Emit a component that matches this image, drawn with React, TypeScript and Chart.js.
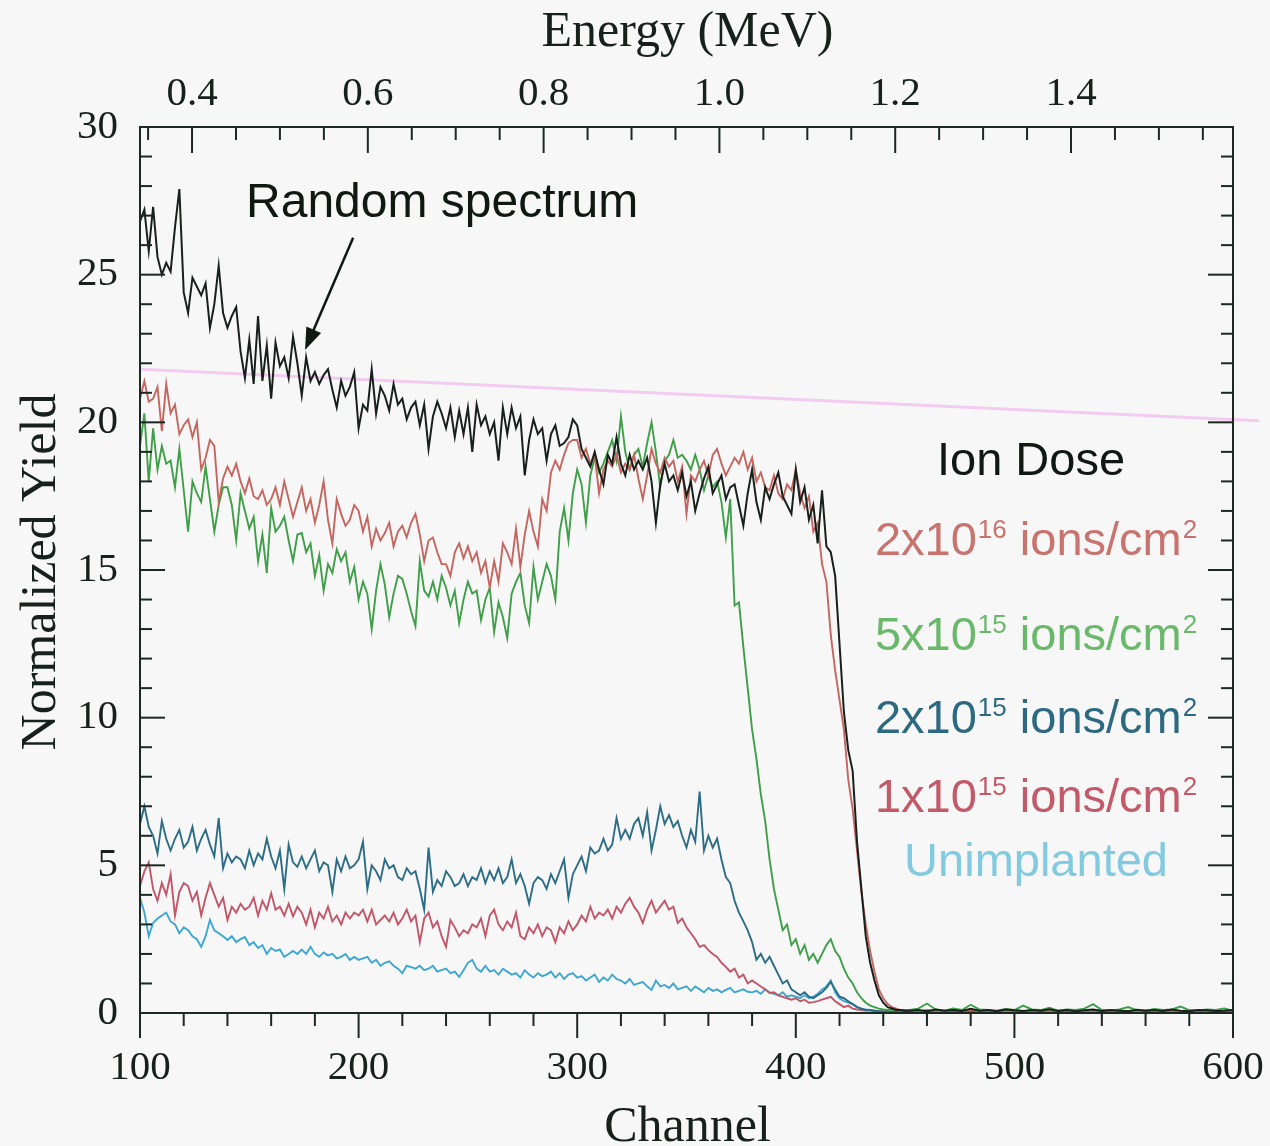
import React, { useEffect, useRef } from "react";
import { Chart, registerables } from "chart.js";

Chart.register(...registerables);

// ---------------- axes / ticks ----------------
const channelMin = 100;
const channelMax = 600;
const yieldMin = 0;
const yieldMax = 30;
const channelTicks = [100, 200, 300, 400, 500, 600];
const yieldTicks = [0, 5, 10, 15, 20, 25, 30];
const energyTicks = [0.4, 0.6, 0.8, 1.0, 1.2, 1.4];
const channelMinorStep = 20;
const yieldMinorStep = 1;
const energyMinorStep = 0.05;
// energy calibration of the top axis (MeV)
const energyAtChannelMin = 0.3408;
const energyPerChannel = 0.002487;

// channels covered by the series arrays
const mainStart = 100; // main arrays: 100, 102, ..., 450
const mainStep = 2;
const tailStart = 452; // tail arrays: 452, 456, ..., 600
const tailStep = 4;

// ---------------- series (Normalized Yield) ----------------
const randomSpectrum = [
  26.8, 27.2, 25.8, 27.3, 25.6, 25.0, 25.4, 25.1, 26.6, 27.9,
  24.4, 23.7, 24.9, 24.6, 24.3, 24.7, 23.2, 24.0, 25.3, 23.7,
  23.2, 23.6, 23.9, 22.4, 21.5, 22.8, 21.3, 23.6, 21.4, 22.6,
  20.8, 22.7, 21.9, 22.2, 21.5, 22.9, 22.0, 20.9, 22.2, 21.4,
  21.7, 21.3, 21.6, 21.8, 21.1, 20.5, 21.4, 20.9, 21.2, 21.7,
  19.8, 20.6, 20.4, 21.8, 20.3, 21.2, 20.9, 20.4, 21.3, 20.6,
  20.8, 20.1, 20.5, 20.7, 19.9, 20.6, 19.1, 20.2, 20.7, 20.3,
  19.8, 20.5, 19.5, 20.4, 19.6, 20.5, 19.0, 20.6, 19.9, 20.2,
  19.6, 20.0, 18.7, 20.5, 19.6, 20.5, 19.8, 20.2, 18.2, 19.4,
  20.1, 19.6, 19.8, 18.7, 19.6, 19.9, 19.2, 19.3, 19.5, 20.1,
  19.9, 19.1, 18.8, 18.5, 19.0, 18.4, 17.9, 18.9, 18.6, 19.5,
  18.6, 18.2, 18.9, 18.4, 18.7, 18.4, 18.8, 18.0, 16.6, 17.9,
  18.6, 18.0, 18.2, 17.7, 18.3, 17.5, 18.0, 17.0, 17.6, 18.1,
  18.5, 17.6, 17.9, 18.2, 17.4, 17.8, 17.9, 17.2, 16.5, 17.6,
  18.4, 17.3, 16.7, 17.8, 17.4, 17.9, 18.3, 17.5, 17.2, 16.9,
  18.4, 17.3, 17.8, 16.7, 17.2, 15.9, 17.7, 15.8, 15.6, 14.8,
  12.5, 10.2, 8.9, 8.2, 5.8, 4.2, 2.6, 1.7, 1.1, 0.6,
  0.35, 0.2, 0.15, 0.1, 0.1, 0.08,
];
const dose2e16 = [
  20.8, 21.4, 20.7, 20.8, 21.2, 19.7, 21.3, 20.3, 20.6, 19.6,
  19.9, 20.1, 19.5, 20.0, 18.4, 18.8, 19.4, 19.2, 17.3, 18.1,
  18.5, 18.2, 18.6, 18.0, 17.6, 18.1, 17.5, 17.4, 17.7, 17.2,
  17.4, 17.8, 17.2, 18.0, 17.4, 16.8, 17.3, 17.8, 17.0, 17.4,
  16.6, 17.2, 18.0, 16.7, 15.9, 17.4, 16.9, 16.5, 16.7, 17.2,
  17.0, 16.3, 16.8, 15.8, 16.4, 16.0, 16.25, 16.6, 15.8, 16.3,
  16.5, 16.1, 16.6, 16.9, 16.2, 15.3, 16.0, 16.1, 15.6, 15.2,
  15.2, 14.8, 15.6, 15.9, 15.4, 15.8, 15.3, 15.6, 14.9, 15.3,
  14.4, 15.3, 14.6, 15.9, 15.6, 15.2, 16.4, 15.1, 16.2, 17.0,
  16.3, 15.8, 17.4, 17.0, 18.3, 18.7, 18.4, 18.9, 19.3, 19.4,
  19.4, 18.8, 19.1, 18.6, 18.9, 17.6, 18.4, 18.7, 18.5, 18.9,
  18.3, 18.6, 18.4, 18.9, 18.1, 17.4, 18.2, 19.1, 18.6, 18.3,
  18.8, 18.5, 18.7, 18.0, 18.5, 16.9, 18.2, 18.0, 18.4, 18.7,
  18.2, 18.9, 19.1, 18.6, 18.2, 18.5, 18.8, 18.6, 19.0, 18.4,
  18.8, 18.0, 18.3, 17.8, 17.7, 18.2, 17.6, 17.4, 17.9, 17.7,
  18.4, 17.6, 17.1, 17.5, 16.3, 16.6, 15.2, 14.6, 12.8, 11.6,
  10.6, 9.6, 7.9, 6.9, 5.5, 4.1, 3.0, 2.1, 1.4, 0.8,
  0.5, 0.3, 0.2, 0.15, 0.1, 0.1,
];
const dose5e15 = [
  19.2, 20.3, 18.0, 19.8, 18.4, 19.2, 18.6, 18.7, 17.8, 19.1,
  17.7, 16.3, 18.0, 17.6, 17.3, 18.5, 17.4, 16.3, 17.2, 17.8,
  17.8, 17.2, 16.0, 17.6, 17.0, 16.4, 16.8, 15.3, 16.2, 14.9,
  17.1, 16.3, 16.5, 16.8, 16.0, 15.3, 16.2, 16.25, 15.6, 15.9,
  14.8, 15.5, 14.3, 15.2, 14.9, 15.7, 15.3, 15.6, 14.6, 15.1,
  14.0, 14.6, 14.2, 13.0, 14.3, 15.2, 14.5, 13.4, 14.2, 14.8,
  14.7, 14.2, 13.6, 13.1, 15.3, 14.3, 14.1, 14.6, 14.0, 14.8,
  14.4, 13.8, 14.3, 13.2, 14.0, 14.6, 14.2, 14.3, 13.3, 14.0,
  14.4, 12.9, 13.9, 13.4, 12.7, 14.2, 14.6, 14.9, 13.8, 13.2,
  15.1, 14.0, 14.6, 15.2, 14.8, 14.0, 16.3, 17.1, 16.0, 17.6,
  18.4, 17.9, 16.6, 18.2, 18.8, 18.3, 18.6, 19.0, 19.4, 18.7,
  20.2, 19.0, 18.4, 18.9, 19.1, 18.5, 19.3, 20.0, 19.0, 17.8,
  18.7, 18.9, 19.4, 18.8, 18.9, 18.7, 18.4, 18.9, 18.4, 17.7,
  18.2, 17.8, 18.0, 17.3, 16.1, 17.4, 13.8, 13.9, 12.4, 11.0,
  9.6, 8.6, 7.4, 6.5, 5.2, 4.2, 3.5, 2.8, 3.0, 2.3,
  2.5, 2.0, 2.3, 1.8, 2.0, 1.7, 2.0, 2.3, 2.5, 2.1,
  1.9, 1.5, 1.2, 1.0, 0.7, 0.5, 0.35, 0.25, 0.2, 0.15,
  0.12, 0.1, 0.12, 0.1, 0.08, 0.1,
];
const dose2e15 = [
  6.4, 7.0, 6.3, 6.0, 5.4, 6.5, 5.9, 5.5, 5.9, 6.2,
  5.6, 5.8, 6.3, 5.5, 5.9, 6.2, 5.7, 5.3, 6.6, 4.9,
  5.4, 5.1, 5.3, 5.2, 4.9, 5.5, 5.0, 5.4, 5.2, 5.9,
  5.3, 4.9, 5.5, 4.2, 5.7, 5.1, 4.95, 5.3, 4.9, 5.2,
  5.5, 4.8, 5.1, 5.0, 4.1, 5.2, 4.8, 5.3, 4.9, 5.0,
  5.2, 5.8, 4.2, 5.0, 4.8, 4.5, 5.2, 4.9, 5.0, 4.6,
  4.5, 4.9, 4.7, 4.8, 4.2, 3.5, 5.6, 4.1, 4.5, 4.3,
  4.8, 4.6, 4.3, 4.4, 4.7, 4.3, 4.6, 4.5, 4.9, 4.4,
  4.8, 4.5, 4.9, 4.4, 4.6, 5.2, 4.4, 4.7, 4.3, 3.7,
  4.4, 4.6, 4.5, 4.2, 4.7, 4.4, 4.8, 5.2, 3.9, 4.7,
  5.0, 5.3, 4.8, 5.6, 5.4, 5.5, 5.9, 5.5, 5.7, 6.6,
  5.9, 6.2, 5.9, 6.4, 6.6, 6.0, 6.8, 5.5, 6.2, 7.0,
  6.4, 6.7, 6.3, 6.5, 6.0, 5.6, 6.2, 5.8, 7.5, 5.5,
  6.0, 5.6, 5.9, 5.2, 4.6, 4.4, 3.8, 3.4, 3.1, 2.8,
  2.4, 1.8, 2.0, 1.7, 1.9, 1.6, 1.3, 1.0, 1.1, 0.8,
  0.7, 0.6, 0.7, 0.55, 0.5, 0.6, 0.7, 0.85, 1.05, 0.8,
  0.55, 0.5, 0.4, 0.3, 0.2, 0.15, 0.1, 0.1, 0.08, 0.06,
  0.05, 0.05, 0.04, 0.05, 0.04, 0.04,
];
const dose1e15 = [
  4.3, 4.8, 5.1, 4.2, 3.8, 4.4, 4.0, 4.7, 3.3, 4.1,
  4.4, 4.3, 3.8, 4.1, 3.3, 3.9, 4.4, 4.0, 3.6, 3.9,
  3.15, 3.6, 3.4, 3.7, 3.5, 3.6, 3.9, 3.3, 3.8, 3.5,
  4.06, 3.5, 3.6, 3.3, 3.7, 3.27, 3.6, 3.4, 3.0, 3.5,
  2.9, 3.4, 3.2, 3.6, 3.1, 3.3, 3.0, 3.4, 3.2, 3.4,
  3.3, 3.5, 3.1, 3.5, 3.0, 3.15, 3.3, 3.1, 3.4, 3.0,
  3.2, 3.5, 3.1, 3.3, 2.4, 3.2, 3.4, 2.9, 3.1, 2.6,
  2.24, 3.15, 2.9, 2.6, 2.8, 2.7, 3.0, 2.9, 3.2, 2.6,
  3.3, 3.5, 3.0, 2.8, 3.1, 2.9, 3.4, 2.6, 2.5, 2.9,
  2.7, 3.0, 2.6, 2.9, 2.8, 2.4, 2.9, 2.7, 3.1, 2.8,
  3.0, 3.3, 3.1, 3.6, 3.2, 3.4, 3.3, 3.5, 3.2, 3.6,
  3.4, 3.7, 3.9, 3.6, 3.4, 3.05, 3.5, 3.8, 3.4, 3.6,
  3.8, 3.5, 3.6, 3.05, 3.2, 2.9, 2.7, 2.5, 2.24, 2.3,
  2.13, 2.0, 1.9, 1.7, 1.56, 1.4, 1.5, 1.2, 1.3, 1.0,
  1.1, 1.0, 0.9, 0.8, 0.68, 0.7, 0.6, 0.55, 0.5, 0.45,
  0.5, 0.4, 0.45, 0.35, 0.37, 0.4, 0.45, 0.5, 0.55, 0.4,
  0.3, 0.2, 0.25, 0.15, 0.12, 0.1, 0.08, 0.08, 0.06, 0.05,
  0.05, 0.04, 0.04, 0.03, 0.04, 0.03,
];
const unimplanted = [
  3.9, 3.4, 2.6, 3.05, 3.2, 3.3, 3.4, 3.1, 3.0, 2.7,
  2.9, 2.8, 2.6, 2.5, 2.24, 2.6, 3.15, 2.8, 2.7, 2.6,
  2.47, 2.6, 2.4, 2.5, 2.57, 2.3, 2.4, 2.2, 2.3, 2.0,
  2.2, 2.1, 2.15, 1.9, 2.0, 2.1, 2.0, 2.15, 2.0, 2.24,
  2.0, 1.9, 2.05, 1.95, 2.0, 1.85, 1.9, 2.0, 1.8, 1.9,
  1.8, 1.85, 1.9, 1.7, 1.8, 1.6, 1.7, 1.75, 1.6, 1.5,
  1.35, 1.6, 1.55, 1.5, 1.6, 1.45, 1.5, 1.6, 1.4, 1.45,
  1.5, 1.35, 1.4, 1.22, 1.45, 1.7, 1.8, 1.5, 1.4, 1.6,
  1.4, 1.45, 1.3, 1.5, 1.4, 1.3, 1.35, 1.2, 1.45, 1.3,
  1.2, 1.35, 1.25, 1.3, 1.4, 1.2, 1.35, 1.15, 1.3, 1.35,
  1.2, 1.25, 1.1, 1.2, 1.3, 1.05, 1.2, 1.1, 1.3, 1.15,
  1.1, 1.0, 1.15, 0.95, 1.0, 1.05, 0.9, 0.78, 1.1, 0.9,
  0.95, 0.85, 1.0, 0.8, 0.85, 0.9, 0.75, 0.9, 0.8, 0.7,
  0.85, 0.75, 0.8, 0.7, 0.78, 0.85, 0.7, 0.75, 0.8, 0.72,
  0.7, 0.75, 0.65, 0.8, 0.7, 0.65, 0.6, 0.7, 0.55, 0.6,
  0.55, 0.5, 0.6, 0.5, 0.55, 0.65, 0.8, 0.9, 1.1, 0.7,
  0.5, 0.4, 0.35, 0.3, 0.2, 0.15, 0.12, 0.1, 0.08, 0.06,
  0.05, 0.05, 0.04, 0.04, 0.03, 0.03,
];

// tails, channels 452..600 (background level)
const randomTail = [
  0.08, 0.1, 0.06, 0.12, 0.08, 0.1, 0.07, 0.14, 0.08, 0.1,
  0.06, 0.12, 0.09, 0.07, 0.1, 0.08, 0.13, 0.07, 0.1, 0.06,
  0.09, 0.12, 0.07, 0.1, 0.08, 0.06, 0.11, 0.08, 0.1, 0.07,
  0.12, 0.08, 0.06, 0.1, 0.09, 0.07, 0.08, 0.1,
];
const dose2e16Tail = [
  0.08, 0.06, 0.1, 0.07, 0.05, 0.09, 0.06, 0.1, 0.07, 0.05,
  0.08, 0.06, 0.1, 0.07, 0.05, 0.08, 0.06, 0.09, 0.07, 0.05,
  0.08, 0.06, 0.1, 0.07, 0.05, 0.08, 0.06, 0.09, 0.07, 0.05,
  0.08, 0.06, 0.1, 0.07, 0.05, 0.08, 0.06, 0.07,
];
const dose5e15Tail = [
  0.1, 0.15, 0.32, 0.12, 0.08, 0.15, 0.1, 0.28, 0.12, 0.1,
  0.08, 0.14, 0.1, 0.25, 0.12, 0.1, 0.18, 0.08, 0.12, 0.1,
  0.15, 0.3, 0.1, 0.08, 0.12, 0.2, 0.1, 0.08, 0.14, 0.1,
  0.12, 0.22, 0.1, 0.08, 0.12, 0.1, 0.15, 0.08,
];
const lowDoseTail = [
  0.04, 0.03, 0.05, 0.03, 0.04, 0.02, 0.04, 0.03, 0.05, 0.03,
  0.04, 0.03, 0.02, 0.04, 0.03, 0.05, 0.03, 0.04, 0.02, 0.04,
  0.03, 0.05, 0.03, 0.04, 0.02, 0.04, 0.03, 0.05, 0.03, 0.04,
  0.02, 0.04, 0.03, 0.05, 0.03, 0.04, 0.02, 0.03,
];

// faint pink scan line across the plot (channel, yield)
const pinkLineChannels = [100, 612];
const pinkLineValues = [21.8, 20.05];

// ---------------- labels ----------------
const xTitle = "Channel";
const yTitle = "Normalized Yield";
const topTitle = "Energy (MeV)";
const randomLabel = "Random spectrum";
const legendTitle = "Ion Dose";
const doseBases = ["2x10", "5x10", "2x10", "1x10"];
const doseExps = ["16", "15", "15", "15"];
const doseUnit = " ions/cm";
const unimplantedLabel = "Unimplanted";

// ---------------- styles ----------------
const BG = "#f7f7f7";
const AXIS = "#1c2822";
const TEXT = "#17211b";
const colBlack = "#18201b";
const col2e16 = "#c4665f";
const col5e15 = "#3f9e48";
const col2e15 = "#2b6c86";
const col1e15 = "#c25669";
const colUnimp = "#3ea7d0";
const txt2e16 = "#c8736d";
const txt5e15 = "#6ab86a";
const txt2e15 = "#2d6a82";
const txt1e15 = "#c25a69";
const txtUnimp = "#82cae0";
const SERIF = '"Liberation Serif", "Times New Roman", serif';
const SANS = '"Liberation Sans", Arial, sans-serif';

// fixed plot frame inside the 1270x1146 canvas
const LEFT_W = 140;
const RIGHT_W = 37;
const TOP_H = 127;
const BOTTOM_H = 133;

function toPoints(main: number[], tail: number[]) {
  const pts: { x: number; y: number }[] = [];
  main.forEach((v, i) => pts.push({ x: mainStart + i * mainStep, y: v }));
  tail.forEach((v, i) => pts.push({ x: tailStart + i * tailStep, y: v }));
  return pts;
}

const energyMin = energyAtChannelMin;
const energyMax = energyAtChannelMin + (channelMax - channelMin) * energyPerChannel;

const noPad = (s: any) => {
  s.paddingLeft = 0;
  s.paddingRight = 0;
  s.paddingTop = 0;
  s.paddingBottom = 0;
};

const decorPlugin = {
  id: "decor",
  beforeDraw(chart: any) {
    const { ctx, width, height } = chart;
    ctx.save();
    ctx.fillStyle = BG;
    ctx.fillRect(0, 0, width, height);
    ctx.restore();
  },
  afterDraw(chart: any) {
    const { ctx, chartArea: a, scales } = chart;
    const sx = scales.x;
    const sy = scales.y;
    const st = scales.xTop;
    ctx.save();
    ctx.strokeStyle = AXIS;
    ctx.lineWidth = 2;
    ctx.lineCap = "butt";
    const line = (x1: number, y1: number, x2: number, y2: number) => {
      ctx.beginPath();
      ctx.moveTo(x1, y1);
      ctx.lineTo(x2, y2);
      ctx.stroke();
    };
    // frame
    ctx.strokeRect(a.left, a.top, a.right - a.left, a.bottom - a.top);
    // bottom ticks (outward)
    for (let c = channelMin; c <= channelMax + 1e-6; c += channelMinorStep) {
      const px = sx.getPixelForValue(c);
      const major = channelTicks.includes(c);
      line(px, a.bottom, px, a.bottom + (major ? 25 : 13));
    }
    // top ticks (inward)
    const firstE = Math.ceil(energyMin / energyMinorStep - 1e-9) * energyMinorStep;
    for (let k = 0; ; k++) {
      const e = firstE + k * energyMinorStep;
      if (e > energyMax) break;
      const px = st.getPixelForValue(e);
      const major = energyTicks.some((t) => Math.abs(t - e) < 1e-6);
      line(px, a.top, px, a.top + (major ? 26 : 13));
    }
    // left / right ticks (inward)
    for (let v = yieldMin; v <= yieldMax; v += yieldMinorStep) {
      const py = sy.getPixelForValue(v);
      const major = yieldTicks.includes(v);
      const len = major ? 25 : 12;
      line(a.left, py, a.left + len, py);
      line(a.right, py, a.right - len, py);
    }

    // axis titles
    ctx.fillStyle = TEXT;
    ctx.font = `50px ${SERIF}`;
    ctx.textAlign = "center";
    ctx.textBaseline = "alphabetic";
    const cx = (a.left + a.right) / 2 + 1;
    ctx.fillText(topTitle, cx, a.top - 81);
    ctx.fillText(xTitle, cx, a.bottom + 128);
    ctx.save();
    ctx.translate(a.left - 85, (a.top + a.bottom) / 2 + 2);
    ctx.rotate(-Math.PI / 2);
    ctx.fillText(yTitle, 0, 0);
    ctx.restore();

    // "Random spectrum" annotation with arrow
    ctx.font = `48px ${SANS}`;
    ctx.textAlign = "left";
    ctx.fillStyle = "#101812";
    ctx.fillText(randomLabel, sx.getPixelForValue(148.5), sy.getPixelForValue(26.95));
    const ax1 = sx.getPixelForValue(197.5);
    const ay1 = sy.getPixelForValue(26.25);
    const ax2 = sx.getPixelForValue(175.5);
    const ay2 = sy.getPixelForValue(22.45);
    const ang = Math.atan2(ay2 - ay1, ax2 - ax1);
    const headLen = 22;
    const headHalf = 8;
    ctx.strokeStyle = "#101812";
    ctx.lineWidth = 2.5;
    line(ax1, ay1, ax2 - Math.cos(ang) * (headLen - 2), ay2 - Math.sin(ang) * (headLen - 2));
    ctx.beginPath();
    ctx.moveTo(ax2, ay2);
    ctx.lineTo(
      ax2 - Math.cos(ang) * headLen - Math.sin(ang) * headHalf,
      ay2 - Math.sin(ang) * headLen + Math.cos(ang) * headHalf
    );
    ctx.lineTo(
      ax2 - Math.cos(ang) * headLen + Math.sin(ang) * headHalf,
      ay2 - Math.sin(ang) * headLen - Math.cos(ang) * headHalf
    );
    ctx.closePath();
    ctx.fillStyle = "#101812";
    ctx.fill();

    // legend block
    const legendCx = sx.getPixelForValue(509.9);
    ctx.textAlign = "left";
    ctx.font = `47px ${SANS}`;
    ctx.fillStyle = "#0f1812";
    const wTitle = ctx.measureText(legendTitle).width;
    ctx.fillText(legendTitle, sx.getPixelForValue(507.6) - wTitle / 2, sy.getPixelForValue(18.22));
    const doseColors = [txt2e16, txt5e15, txt2e15, txt1e15];
    const doseBaselines = [15.51, 12.29, 9.48, 6.81];
    const big = `47px ${SANS}`;
    const small = `26px ${SANS}`;
    doseBases.forEach((base, i) => {
      const parts: [string, boolean][] = [
        [base, false],
        [doseExps[i], true],
        [doseUnit, false],
        ["2", true],
      ];
      let total = 0;
      const widths = parts.map(([t, sup]) => {
        ctx.font = sup ? small : big;
        const w = ctx.measureText(t).width + (sup ? 1 : 0);
        total += w;
        return w;
      });
      let x = legendCx - total / 2;
      const by = sy.getPixelForValue(doseBaselines[i]);
      ctx.fillStyle = doseColors[i];
      parts.forEach(([t, sup], j) => {
        ctx.font = sup ? small : big;
        ctx.fillText(t, x + (sup ? 1 : 0), sup ? by - 17 : by);
        x += widths[j];
      });
    });
    ctx.font = big;
    ctx.fillStyle = txtUnimp;
    const wU = ctx.measureText(unimplantedLabel).width;
    ctx.fillText(unimplantedLabel, legendCx - wU / 2, sy.getPixelForValue(4.64));
    ctx.restore();
  },
};

export default function App() {
  const canvasRef = useRef<HTMLCanvasElement | null>(null);

  useEffect(() => {
    const canvas = canvasRef.current;
    if (!canvas) return;
    const ds = (label: string, data: any[], color: string, width = 1.9) => ({
      label,
      data,
      borderColor: color,
      backgroundColor: color,
      borderWidth: width,
      pointRadius: 0,
      tension: 0,
      fill: false,
      xAxisID: "x",
      yAxisID: "y",
    });
    const tickFont = { family: SERIF, size: 41 };
    const chart = new Chart(canvas, {
      type: "line",
      data: {
        datasets: [
          ds("Random spectrum", toPoints(randomSpectrum, randomTail), colBlack, 2),
          ds("2x10^16 ions/cm^2", toPoints(dose2e16, dose2e16Tail), col2e16),
          ds("5x10^15 ions/cm^2", toPoints(dose5e15, dose5e15Tail), col5e15),
          ds("2x10^15 ions/cm^2", toPoints(dose2e15, lowDoseTail), col2e15),
          ds("1x10^15 ions/cm^2", toPoints(dose1e15, lowDoseTail), col1e15),
          ds("Unimplanted", toPoints(unimplanted, lowDoseTail), colUnimp),
          {
            ...ds(
              "scan line",
              pinkLineChannels.map((c, i) => ({ x: c, y: pinkLineValues[i] })),
              "#f4cbf0",
              3
            ),
            clip: false,
          },
        ],
      },
      options: {
        animation: false,
        responsive: false,
        devicePixelRatio: 1,
        events: [],
        layout: { padding: 0 },
        plugins: {
          legend: { display: false },
          tooltip: { enabled: false },
          title: { display: false },
        },
        scales: {
          x: {
            type: "linear",
            position: "bottom",
            min: channelMin,
            max: channelMax,
            afterFit: (s: any) => {
              s.height = BOTTOM_H;
              noPad(s);
            },
            afterBuildTicks: (s: any) => {
              s.ticks = channelTicks.map((value) => ({ value }));
            },
            grid: { display: false, drawTicks: false },
            border: { display: false },
            ticks: {
              padding: 31,
              font: tickFont,
              color: TEXT,
              maxRotation: 0,
              autoSkip: false,
            },
          },
          xTop: {
            type: "linear",
            position: "top",
            min: energyMin,
            max: energyMax,
            afterFit: (s: any) => {
              s.height = TOP_H;
              noPad(s);
            },
            afterBuildTicks: (s: any) => {
              s.ticks = energyTicks.map((value) => ({ value }));
            },
            grid: { display: false, drawTicks: false },
            border: { display: false },
            ticks: {
              padding: 8,
              font: tickFont,
              color: TEXT,
              maxRotation: 0,
              autoSkip: false,
              callback: (v: any) => Number(v).toFixed(1),
            },
          },
          y: {
            type: "linear",
            position: "left",
            min: yieldMin,
            max: yieldMax,
            afterFit: (s: any) => {
              s.width = LEFT_W;
              noPad(s);
            },
            afterBuildTicks: (s: any) => {
              s.ticks = yieldTicks.map((value) => ({ value }));
            },
            grid: { display: false, drawTicks: false },
            border: { display: false },
            ticks: {
              padding: 22,
              font: tickFont,
              color: TEXT,
              autoSkip: false,
            },
          },
          yRight: {
            type: "linear",
            position: "right",
            display: true,
            min: yieldMin,
            max: yieldMax,
            afterFit: (s: any) => {
              s.width = RIGHT_W;
              noPad(s);
            },
            grid: { display: false, drawTicks: false },
            border: { display: false },
            ticks: { display: false },
          },
        },
      },
      plugins: [decorPlugin],
    } as any);
    return () => chart.destroy();
  }, []);

  return (
    <div style={{ position: "absolute", left: 0, top: 0, width: 1270, height: 1146 }}>
      <canvas
        ref={canvasRef}
        width={1270}
        height={1146}
        style={{ display: "block", width: 1270, height: 1146 }}
      />
    </div>
  );
}
